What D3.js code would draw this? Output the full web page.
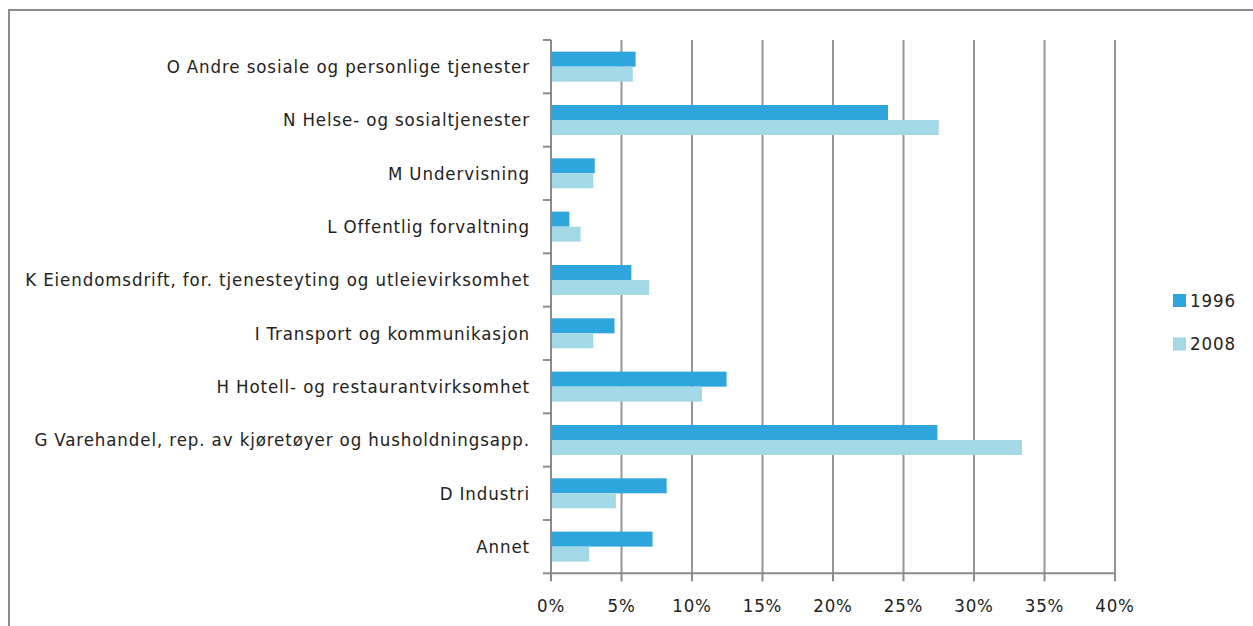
<!DOCTYPE html>
<html>
<head>
<meta charset="utf-8">
<script src="https://cdn.jsdelivr.net/npm/d3@7"></script>
<style>
  html, body { margin: 0; padding: 0; background: #fff; }
  svg { display: block; }
  text { font-family: "DejaVu Sans Condensed", "Roboto", sans-serif; fill: #222; letter-spacing: 0.9px; }
</style>
</head>
<body>
<svg id="chart" width="1253" height="626"></svg>
<script>
// Share of employment by industry, 1996 vs 2008
const categories = [
  "O Andre sosiale og personlige tjenester",
  "N Helse- og sosialtjenester",
  "M Undervisning",
  "L Offentlig forvaltning",
  "K Eiendomsdrift, for. tjenesteyting og utleievirksomhet",
  "I Transport og kommunikasjon",
  "H Hotell- og restaurantvirksomhet",
  "G Varehandel, rep. av kjøretøyer og husholdningsapp.",
  "D Industri",
  "Annet"
];
const seriesNames = ["1996", "2008"];
const values1996 = [6.0, 23.9, 3.1, 1.3, 5.7, 4.5, 12.45, 27.4, 8.2, 7.2];
const values2008 = [5.8, 27.5, 3.0, 2.1, 6.95, 3.0, 10.7, 33.4, 4.6, 2.7];
const xTicks = [0, 5, 10, 15, 20, 25, 30, 35, 40];
const colors = ["#2fa5dd", "#a3d9e6"];

const svg = d3.select("#chart");

// outer frame
svg.append("rect")
  .attr("x", 9).attr("y", 10).attr("width", 1260).attr("height", 640)
  .attr("fill", "none").attr("stroke", "#8c8c8c").attr("stroke-width", 2);

const plotLeft = 551, plotRight = 1115, plotTop = 40, plotBottom = 573.3;

const x = d3.scaleLinear().domain([0, 40]).range([plotLeft, plotRight]);
const y = d3.scaleBand().domain(categories).range([plotTop, plotBottom])
  .paddingInner(0.4375).paddingOuter(0.21875);
const ySub = d3.scaleBand().domain(seriesNames).range([0, y.bandwidth()]);

// vertical gridlines
svg.append("g").selectAll("line")
  .data(xTicks.filter(t => t > 0))
  .join("line")
  .attr("x1", d => x(d)).attr("x2", d => x(d))
  .attr("y1", plotTop).attr("y2", plotBottom)
  .attr("stroke", "#959595").attr("stroke-width", 2);

// bars
const rows = categories.map((c, i) => ({ c, v: [values1996[i], values2008[i]] }));
const g = svg.append("g");
rows.forEach(r => {
  seriesNames.forEach((s, j) => {
    g.append("rect")
      .attr("x", x(0))
      .attr("y", y(r.c) + ySub(s))
      .attr("width", x(r.v[j]) - x(0))
      .attr("height", ySub.bandwidth())
      .attr("fill", colors[j]);
  });
});

// category axis
const yAxis = svg.append("g").attr("transform", `translate(${plotLeft},0)`);
yAxis.append("line").attr("x1", 0).attr("x2", 0).attr("y1", plotTop).attr("y2", plotBottom)
  .attr("stroke", "#8c8c8c").attr("stroke-width", 2);
const bounds = d3.range(categories.length + 1).map(i => plotTop + i * y.step());
yAxis.selectAll("line.tick").data(bounds).join("line").attr("class", "tick")
  .attr("x1", -8).attr("x2", 0).attr("y1", d => d).attr("y2", d => d)
  .attr("stroke", "#8c8c8c").attr("stroke-width", 2);
yAxis.selectAll("text").data(categories).join("text")
  .attr("x", -21)
  .attr("y", d => y(d) + y.bandwidth() / 2)
  .attr("dy", "0.35em")
  .attr("text-anchor", "end")
  .attr("font-size", 18.5)
  .text(d => d);

// value axis
const xAxis = svg.append("g");
xAxis.append("line").attr("x1", plotLeft).attr("x2", plotRight).attr("y1", plotBottom).attr("y2", plotBottom)
  .attr("stroke", "#8c8c8c").attr("stroke-width", 2);
xAxis.selectAll("line.tick").data(xTicks).join("line").attr("class", "tick")
  .attr("x1", d => x(d)).attr("x2", d => x(d)).attr("y1", plotBottom).attr("y2", plotBottom + 8)
  .attr("stroke", "#8c8c8c").attr("stroke-width", 2);
xAxis.selectAll("text").data(xTicks).join("text")
  .attr("x", d => x(d)).attr("y", 612)
  .attr("text-anchor", "middle")
  .attr("font-size", 18.5)
  .text(d => d + "%");

// legend
const legend = svg.append("g");
seriesNames.forEach((s, i) => {
  const ly = 294 + i * 43.5;
  legend.append("rect").attr("x", 1173).attr("y", ly).attr("width", 13).attr("height", 13)
    .attr("fill", colors[i]);
  legend.append("text").attr("x", 1190).attr("y", ly + 6.5).attr("dy", "0.35em")
    .attr("font-size", 18.5).text(s);
});
</script>
</body>
</html>
